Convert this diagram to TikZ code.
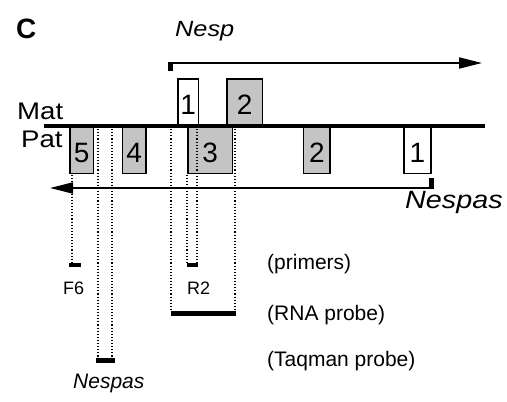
\documentclass[tikz,border=0pt]{standalone}
\usepackage{fontspec}
\setmainfont{Liberation Sans}
\newfontfamily\widefont[FakeStretch=1.15]{Liberation Sans}
\usetikzlibrary{arrows.meta,positioning}
\definecolor{exongrey}{HTML}{C4C4C4}

\begin{document}
\begin{tikzpicture}[x=1pt, y=-1pt, inner sep=0pt,
    exon/.style={draw=black, line width=1.6pt, fill=exongrey,
        minimum height=46.5pt, text height=25pt, text depth=0pt,
        font=\fontsize{28}{28}\selectfont},
    strand/.style={line width=2pt, -{Triangle[length=23pt,width=11pt]}},
    guide/.style={dotted, line width=1.1pt},
    oligo/.style={fill=black, minimum height=4.5pt},
    note/.style={anchor=base west, font=\fontsize{21}{21}\selectfont}]
  \useasboundingbox (0,0) rectangle (507,402);

  % maternal exons (Nesp)
  \node[exon, fill=white, minimum width=20.5pt, anchor=south west] (m1) at (177,126) {1};
  \node[exon, minimum width=35.5pt, anchor=south west] (m2) at (226,126) {2};
  % paternal exons (Nespas)
  \node[exon, minimum width=23.5pt, anchor=north west] (p5) at (69,126) {5};
  \node[exon, minimum width=23.5pt, right=27.5pt of p5] (p4) {4};
  \node[exon, minimum width=44.5pt, right=40.5pt of p4] (p3) {3};
  \node[exon, minimum width=26.5pt, right=69.5pt of p3] (p2) {2};
  \node[exon, fill=white, minimum width=26.5pt, right=72.5pt of p2] (p1) {1};

  % primers and probes
  \node[oligo, minimum width=12pt] (f6) at (75,265) {};
  \node[oligo, minimum width=11pt] (r2) at (192.5,265) {};
  \node[oligo, minimum width=65pt, minimum height=5pt] (rna) at (203.5,313.5) {};
  \node[oligo, minimum width=19pt] (taq) at (105.5,360.5) {};

  \coordinate (g1) at (72,175);
  \coordinate (g2) at (98,126);
  \coordinate (g3) at (112,126);
  \coordinate (g4) at (171,126);
  \coordinate (g5) at (187,175);
  \coordinate (g6) at (197,126);
  \coordinate (g7) at (235,126);
  \draw[guide] (g1) -- (g1 |- f6.north);
  \draw[guide] (g2) -- (g2 |- taq.north);
  \draw[guide] (g3) -- (g3 |- taq.north);
  \draw[guide] (g4) -- (g4 |- rna.north);
  \draw[guide] (g5) -- (g5 |- r2.north);
  \draw[guide] (g6) -- (g6 |- r2.north);
  \draw[guide] (g7) -- (g7 |- rna.north);

  % chromosome
  \coordinate (chrL) at (44,126);
  \coordinate (chrR) at (485,126);
  \draw[line width=4.5pt] (chrL) -- (chrR);

  % transcripts
  \coordinate (nespS) at (170.5,63);
  \coordinate (nespE) at (482,63);
  \draw[strand] (nespS) -- (nespE);
  \draw[line width=5pt] ([yshift=1pt]nespS) -- ++(0,9);
  \coordinate (nespasS) at (431.5,188);
  \coordinate (nespasE) at (50,188);
  \draw[strand] (nespasS) -- (nespasE);
  \draw[line width=5pt] ([yshift=-1pt]nespasS) -- ++(0,-11);

  % labels
  \node[anchor=base west, font=\bfseries\fontsize{28}{28}\selectfont] (panel) at (16,38) {C};
  \node[anchor=base west, font=\widefont\itshape\fontsize{22}{22}\selectfont] (nesp) at (175,36) {Nesp};
  \node[anchor=base west, font=\widefont\itshape\fontsize{25}{25}\selectfont] (nespas) at (405,208) {Nespas};
  \node[anchor=base west, font=\widefont\fontsize{24}{24}\selectfont] (mat) at (17,119) {Mat};
  \node[anchor=base west, font=\widefont\fontsize{24}{24}\selectfont] (pat) at (21,147) {Pat};
  \node[anchor=base west, font=\fontsize{18}{18}\selectfont] (f6lbl) at (63,294) {F6};
  \node[anchor=base west, font=\fontsize{18}{18}\selectfont] (r2lbl) at (187,294) {R2};
  \node[anchor=base west, font=\itshape\fontsize{21}{21}\selectfont] (taqlbl) at (73,388) {Nespas};
  \node[note] (primers) at (267,269) {(primers)};
  \node[note] (rnaprobe) at (267,320) {(RNA probe)};
  \node[note] (taqprobe) at (267,366) {(Taqman probe)};
\end{tikzpicture}
\end{document}
